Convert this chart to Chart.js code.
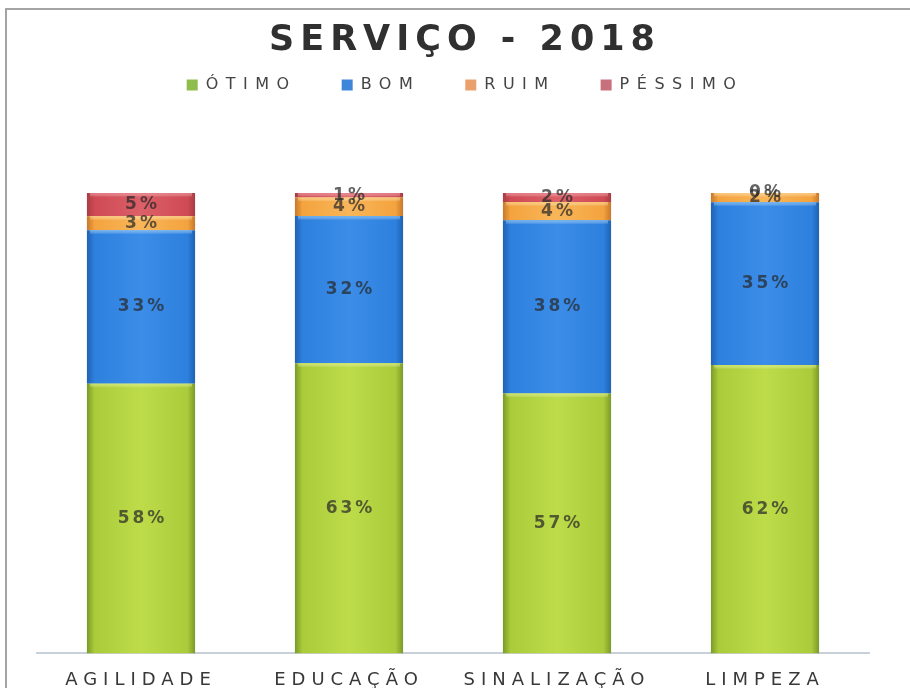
<!DOCTYPE html>
<html><head><meta charset="utf-8">
<script src="https://cdn.jsdelivr.net/npm/chart.js@4/dist/chart.umd.min.js"></script>
<style>
html,body{margin:0;padding:0;background:#fff;overflow:hidden;width:910px;height:688px;}
#wrap{position:relative;width:910px;height:688px;overflow:hidden;}
#c{position:absolute;left:0;top:0;}
</style></head><body>
<div id="wrap"><canvas id="c" width="910" height="699"></canvas></div>
<script>
const chartTitle = 'SERVIÇO - 2018';
const categories = ['AGILIDADE', 'EDUCAÇÃO', 'SINALIZAÇÃO', 'LIMPEZA'];
const seriesNames = ['ÓTIMO', 'BOM', 'RUIM', 'PÉSSIMO'];
const otimo   = [58, 63, 57, 62];
const bom     = [33, 32, 38, 35];
const ruim    = [3, 4, 4, 2];
const pessimo = [5, 1, 2, 0];

const palettes = [
  {legend:'#8fbd4c', dark:'#7a9a2a', main:'#abcb3a', light:'#bedc4a', hi:'#d8ec6a'},
  {legend:'#3d86d9', dark:'#1f62b4', main:'#2e80de', light:'#3b8de8', hi:'#7fc0f4'},
  {legend:'#eaa06c', dark:'#c8782c', main:'#f4a33e', light:'#f8b65a', hi:'#fcd68a'},
  {legend:'#c8707c', dark:'#a83c44', main:'#cf4a54', light:'#dc6068', hi:'#ea8a90'}
];

const rawSeries = [otimo, bom, ruim, pessimo];
const totals = categories.map((_, i) => rawSeries.reduce((s, arr) => s + arr[i], 0));

function barFill(p) {
  return (c) => {
    const chart = c.chart;
    const xs = chart.scales && chart.scales.x;
    if (!xs || c.dataIndex === undefined || !isFinite(xs.width)) return p.main;
    const cx = xs.getPixelForValue(c.dataIndex);
    const w = (xs.width / categories.length) * 0.52;
    const g = chart.ctx.createLinearGradient(cx - w / 2, 0, cx + w / 2, 0);
    g.addColorStop(0, p.dark);
    g.addColorStop(0.07, p.main);
    g.addColorStop(0.5, p.light);
    g.addColorStop(0.93, p.main);
    g.addColorStop(1, p.dark);
    return g;
  };
}

const datasets = rawSeries.map((arr, k) => ({
  label: seriesNames[k],
  rawValues: arr,
  data: arr.map((v, i) => v * 100 / totals[i]),
  backgroundColor: barFill(palettes[k]),
  legendColor: palettes[k].legend,
  highlight: palettes[k].hi,
  borderWidth: 0,
  barPercentage: 0.52,
  categoryPercentage: 1.0
}));

function spacingFor(font) {
  if (font.indexOf('35px') >= 0) return '6px';
  if (font.indexOf('bold') >= 0 && font.indexOf('17px') >= 0) return '3px';
  if (font.indexOf('18px') >= 0) return '6px';
  if (font.indexOf('16px') >= 0) return '7.5px';
  return '0px';
}

const spacingPlugin = {
  id: 'spacing',
  beforeInit(chart) {
    const ctx = chart.ctx;
    const ft = ctx.fillText, mt = ctx.measureText;
    ctx.fillText = function () { this.letterSpacing = spacingFor(this.font); return ft.apply(this, arguments); };
    ctx.measureText = function () { this.letterSpacing = spacingFor(this.font); return mt.apply(this, arguments); };
  }
};

const framePlugin = {
  id: 'frame',
  beforeDraw(chart) {
    const ctx = chart.ctx;
    ctx.save();
    ctx.fillStyle = '#ffffff';
    ctx.fillRect(0, 0, chart.width, chart.height);
    ctx.strokeStyle = '#a4a4a4';
    ctx.lineWidth = 2;
    ctx.beginPath();
    ctx.moveTo(6, chart.height);
    ctx.lineTo(6, 9);
    ctx.lineTo(chart.width, 9);
    ctx.stroke();
    ctx.restore();
  }
};

const labelPlugin = {
  id: 'segLabels',
  afterDatasetsDraw(chart) {
    const ctx = chart.ctx;
    ctx.save();
    // soft highlight along the top edge of each segment
    chart.data.datasets.forEach((ds, di) => {
      const meta = chart.getDatasetMeta(di);
      meta.data.forEach((el) => {
        const h = el.base - el.y;
        if (h < 4) return;
        const g = ctx.createLinearGradient(0, el.y, 0, el.y + 4);
        g.addColorStop(0, ds.highlight);
        g.addColorStop(1, 'rgba(255,255,255,0)');
        ctx.globalAlpha = 0.7;
        ctx.fillStyle = g;
        ctx.fillRect(el.x - el.width / 2 + 3, el.y, el.width - 6, 4);
      });
    });
    ctx.globalAlpha = 1;
    ctx.font = 'bold 17px "DejaVu Sans"';
    ctx.fillStyle = 'rgba(40,40,40,0.72)';
    ctx.textAlign = 'center';
    ctx.textBaseline = 'middle';
    chart.data.datasets.forEach((ds, di) => {
      const meta = chart.getDatasetMeta(di);
      meta.data.forEach((el, i) => {
        const y = (el.y + el.base) / 2;
        ctx.fillText(ds.rawValues[i] + '%', el.x + 1.5, y);
      });
    });
    ctx.restore();
  }
};

new Chart(document.getElementById('c'), {
  type: 'bar',
  data: { labels: categories, datasets: datasets },
  plugins: [spacingPlugin, framePlugin, labelPlugin],
  options: {
    responsive: false,
    animation: false,
    devicePixelRatio: 1,
    layout: { padding: { left: 37, right: 17, top: 0, bottom: 0 } },
    plugins: {
      tooltip: { enabled: false },
      title: {
        display: true,
        text: chartTitle,
        color: '#303030',
        font: { family: 'DejaVu Sans', size: 35, weight: 'bold' },
        padding: { top: 20, bottom: -30 }
      },
      legend: {
        display: true,
        position: 'top',
        labels: {
          color: '#444444',
          font: { family: 'DejaVu Sans', size: 16 },
          boxWidth: 11,
          boxHeight: 11,
          padding: 45,
          generateLabels(chart) {
            return chart.data.datasets.map((ds, i) => ({
              text: ds.label,
              fillStyle: ds.legendColor,
              strokeStyle: ds.legendColor,
              lineWidth: 0,
              fontColor: '#444444',
              datasetIndex: i,
              hidden: false
            }));
          }
        }
      }
    },
    scales: {
      x: {
        stacked: true,
        grid: { display: false },
        border: { display: true, color: '#c8d0da', width: 2 },
        ticks: {
          color: '#383838',
          font: { family: 'DejaVu Sans', size: 18 },
          padding: 8,
          maxRotation: 0,
          autoSkip: false
        }
      },
      xTop: {
        type: 'category',
        position: 'top',
        display: true,
        grid: { display: false },
        border: { display: false },
        ticks: { display: false },
        afterFit(s) { s.height = 90; }
      },
      y: {
        stacked: true,
        min: 0,
        max: 100,
        position: 'right',
        display: true,
        grid: { display: false },
        border: { display: false },
        ticks: { display: false },
        afterFit(s) { s.width = 24; }
      }
    }
  }
});
</script>
</body></html>
